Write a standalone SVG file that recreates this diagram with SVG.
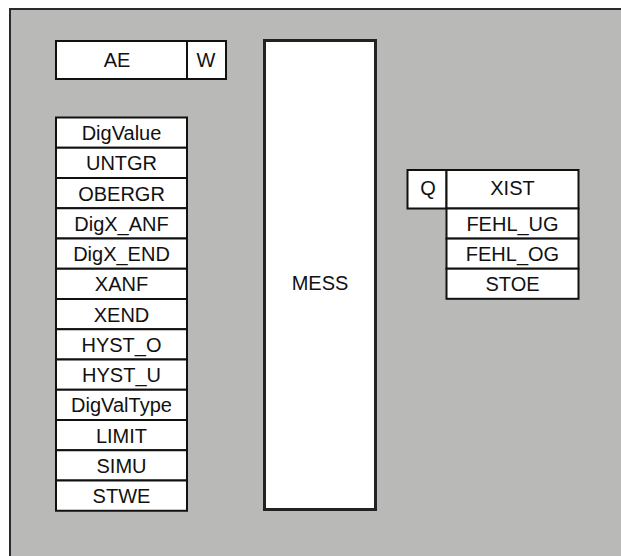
<svg xmlns="http://www.w3.org/2000/svg" width="621" height="556" viewBox="0 0 621 556">
<style>
.frame{fill:#b9b9b7;stroke:#2a2a2a;stroke-width:2}
.box{fill:#ffffff;stroke:#111111;stroke-width:2}
.mess{fill:#ffffff;stroke:#222222;stroke-width:3}
.t{font-family:"Liberation Sans",Arial,sans-serif;font-size:20px;fill:#111111;text-anchor:middle}
</style>
<rect x="0" y="0" width="621" height="556" fill="#ffffff"/>
<g id="frame"><rect class="frame" x="10" y="9" width="640" height="580"/></g>
<g id="connectors"></g>
<g id="AE"><rect class="box" x="56" y="41" width="131" height="38"/><text class="t" x="117" y="66.5">AE</text></g>
<g id="W"><rect class="box" x="187" y="41" width="39" height="38"/><text class="t" x="206" y="66.5">W</text></g>
<g id="inputs">
<g id="in-DigValue"><rect class="box" x="56" y="117.5" width="131" height="30.25"/><text class="t" x="121.5" y="140">DigValue</text></g>
<g id="in-UNTGR"><rect class="box" x="56" y="147.75" width="131" height="30.25"/><text class="t" x="121.5" y="170.25">UNTGR</text></g>
<g id="in-OBERGR"><rect class="box" x="56" y="178" width="131" height="30.25"/><text class="t" x="121.5" y="200.5">OBERGR</text></g>
<g id="in-DigX_ANF"><rect class="box" x="56" y="208.25" width="131" height="30.25"/><text class="t" x="121.5" y="230.75">DigX_ANF</text></g>
<g id="in-DigX_END"><rect class="box" x="56" y="238.5" width="131" height="30.25"/><text class="t" x="121.5" y="261">DigX_END</text></g>
<g id="in-XANF"><rect class="box" x="56" y="268.75" width="131" height="30.25"/><text class="t" x="121.5" y="291.25">XANF</text></g>
<g id="in-XEND"><rect class="box" x="56" y="299" width="131" height="30.25"/><text class="t" x="121.5" y="321.5">XEND</text></g>
<g id="in-HYST_O"><rect class="box" x="56" y="329.25" width="131" height="30.25"/><text class="t" x="121.5" y="351.75">HYST_O</text></g>
<g id="in-HYST_U"><rect class="box" x="56" y="359.5" width="131" height="30.25"/><text class="t" x="121.5" y="382">HYST_U</text></g>
<g id="in-DigValType"><rect class="box" x="56" y="389.75" width="131" height="30.25"/><text class="t" x="121.5" y="412.25">DigValType</text></g>
<g id="in-LIMIT"><rect class="box" x="56" y="420" width="131" height="30.25"/><text class="t" x="121.5" y="442.5">LIMIT</text></g>
<g id="in-SIMU"><rect class="box" x="56" y="450.25" width="131" height="30.25"/><text class="t" x="121.5" y="472.75">SIMU</text></g>
<g id="in-STWE"><rect class="box" x="56" y="480.5" width="131" height="30.25"/><text class="t" x="121.5" y="503">STWE</text></g>
</g>
<g id="MESS"><rect class="mess" x="264.5" y="40.5" width="111" height="469"/><text class="t" x="320" y="290">MESS</text></g>
<g id="Q"><rect class="box" x="407.5" y="170" width="39" height="38.5"/><text class="t" x="428" y="195">Q</text></g>
<g id="outputs">
<g id="out-XIST"><rect class="box" x="446.5" y="170" width="132" height="38.5"/><text class="t" x="512.5" y="195">XIST</text></g>
<g id="out-FEHL_UG"><rect class="box" x="446.5" y="208.5" width="132" height="30.1"/><text class="t" x="512.5" y="231.2">FEHL_UG</text></g>
<g id="out-FEHL_OG"><rect class="box" x="446.5" y="238.6" width="132" height="30.1"/><text class="t" x="512.5" y="261.3">FEHL_OG</text></g>
<g id="out-STOE"><rect class="box" x="446.5" y="268.7" width="132" height="30.1"/><text class="t" x="512.5" y="291.4">STOE</text></g>
</g>
</svg>
